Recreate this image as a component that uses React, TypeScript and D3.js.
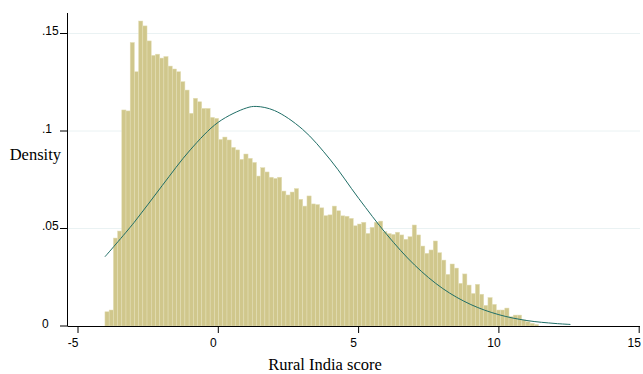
import * as d3 from 'd3';

// histogram bins: start, width, density per bin
const binStart = -4.04;
const binWidth = 0.15;
const density = [
  0.0073, 0.0082, 0.0451, 0.0487, 0.1108, 0.1103, 0.1454, 0.1304, 0.1564, 0.1539,
  0.1462, 0.1388, 0.1394, 0.1374, 0.1382, 0.1333, 0.1318, 0.1304, 0.1253, 0.1210,
  0.1091, 0.1168, 0.1150, 0.1116, 0.1116, 0.1070, 0.1065, 0.0957, 0.0969, 0.0954,
  0.0916, 0.0903, 0.0855, 0.0882, 0.0860, 0.0839, 0.0769, 0.0812, 0.0790, 0.0763,
  0.0757, 0.0763, 0.0692, 0.0672, 0.0687, 0.0705, 0.0650, 0.0615, 0.0667, 0.0626,
  0.0623, 0.0606, 0.0566, 0.0570, 0.0615, 0.0591, 0.0565, 0.0563, 0.0552, 0.0514,
  0.0523, 0.0532, 0.0475, 0.0506, 0.0532, 0.0538, 0.0484, 0.0474, 0.0470, 0.0481,
  0.0467, 0.0445, 0.0458, 0.0518, 0.0467, 0.0410, 0.0373, 0.0390, 0.0436, 0.0376,
  0.0338, 0.0265, 0.0318, 0.0297, 0.0219, 0.0267, 0.0210, 0.0167, 0.0214, 0.0163,
  0.0106, 0.0146, 0.0111, 0.0082, 0.0082, 0.0092, 0.0048, 0.0056, 0.0056, 0.0031,
  0.0022, 0.0014, 0.0008,
];

// normal density overlay
const curveX = [-4.04, -3, -2, -1, 0, 1, 1.35, 2, 3, 4, 5, 6, 7, 8, 9, 10, 11, 12, 12.55];
const curveY = [0.0355, 0.0531, 0.072, 0.0903, 0.1045, 0.1118, 0.1126, 0.1105, 0.1009, 0.0851,
  0.0655, 0.047, 0.0312, 0.0192, 0.011, 0.0058, 0.0028, 0.0013, 0.0008];

const xTicks = [-5, 0, 5, 10, 15];
const yTicks = [0, 0.05, 0.1, 0.15];
const yTickLabels = ['0', '.05', '.1', '.15'];

export default function App() {
  const W = 643, H = 374;
  const x = d3.scaleLinear().domain([-5, 15]).range([78, 639.2]);
  const y = d3.scaleLinear().domain([0, 0.15]).range([326, 33.5]);
  const axisX = 67.5, plotTop = 13, plotRight = 640;

  const line = d3.line<number>()
    .x((_, i) => x(curveX[i]))
    .y(d => y(d))
    .curve(d3.curveCatmullRom);

  return (
    <svg width={W} height={H} style={{ position: 'absolute', left: 0, top: 0, background: '#fff' }}>
      {/* gridlines */}
      {yTicks.slice(1).map(t => (
        <line key={t} x1={axisX} x2={plotRight} y1={y(t)} y2={y(t)} stroke="#eaf2f3" strokeWidth={1} />
      ))}

      {/* bars */}
      {density.map((d, i) => {
        const x0 = x(binStart + i * binWidth);
        const x1 = x(binStart + (i + 1) * binWidth);
        return (
          <rect key={i} x={x0} y={y(d)} width={x1 - x0} height={y(0) - y(d)}
            fill="#d0c78c" stroke="#e4dfb8" strokeWidth={0.5} />
        );
      })}

      {/* normal curve */}
      <path d={line(curveY) ?? ''} fill="none" stroke="#1f6e66" strokeWidth={1} />

      {/* axes */}
      <line x1={axisX} x2={axisX} y1={plotTop} y2={y(0)} stroke="#000" strokeWidth={1} />
      <line x1={axisX} x2={plotRight} y1={y(0) + 0.5} y2={y(0) + 0.5} stroke="#000" strokeWidth={1} />

      {yTicks.map((t, i) => (
        <g key={t}>
          <line x1={axisX - 7.5} x2={axisX} y1={y(t)} y2={y(t)} stroke="#000" strokeWidth={1} />
          <text x={42} y={y(t) + 1.5} textAnchor="start" fontFamily="Liberation Sans, Arial, sans-serif" fontSize={12}>
            {yTickLabels[i]}
          </text>
        </g>
      ))}

      {xTicks.map(t => (
        <g key={t}>
          <line x1={x(t)} x2={x(t)} y1={y(0)} y2={y(0) + 7} stroke="#000" strokeWidth={1} />
          <text x={x(t) - 5} y={347} textAnchor="middle" fontFamily="Liberation Sans, Arial, sans-serif" fontSize={12}>
            {t}
          </text>
        </g>
      ))}

      <text x={61} y={160} textAnchor="end" fontFamily="Liberation Serif, Times New Roman, serif" fontSize={16.5}>
        Density
      </text>
      <text x={325} y={370} textAnchor="middle" fontFamily="Liberation Serif, Times New Roman, serif" fontSize={16.5}>
        Rural India score
      </text>
    </svg>
  );
}
